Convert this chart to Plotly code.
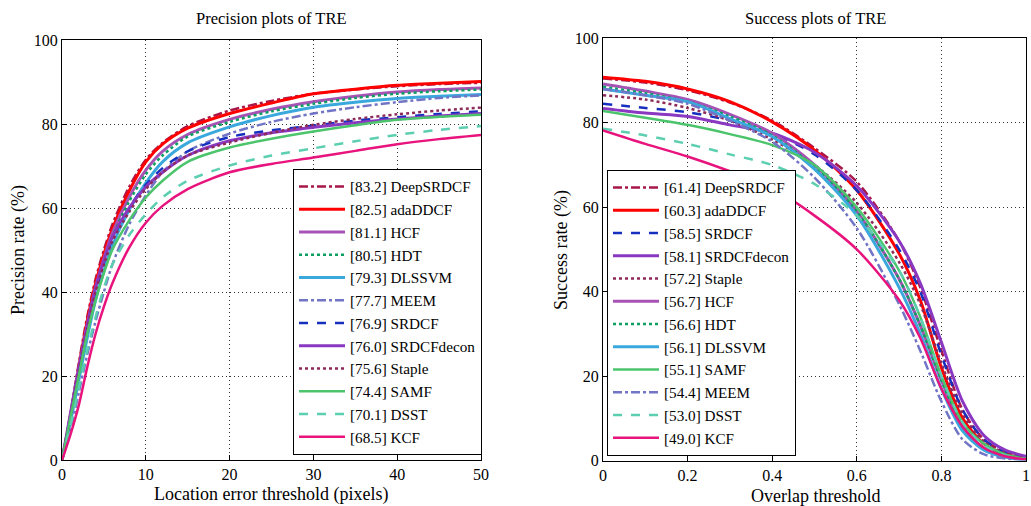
import plotly.graph_objects as go

# ---------------- data ----------------
trackers_pr = ["DeepSRDCF", "adaDDCF", "HCF", "HDT", "DLSSVM", "MEEM",
               "SRDCF", "SRDCFdecon", "Staple", "SAMF", "DSST", "KCF"]
scores_pr = [83.2, 82.5, 81.1, 80.5, 79.3, 77.7, 76.9, 76.0, 75.6, 74.4, 70.1, 68.5]

pr_x = [0, 1, 2, 3, 4, 5, 6, 8, 10, 12, 15, 20, 25, 30, 35, 40, 45, 50]
pr_y = {
    "DeepSRDCF":  [0, 11, 23, 34, 43, 50, 56, 65, 71.5, 75.5, 79.5, 83.2, 85.5, 87.2, 88.2, 89.0, 89.5, 89.8],
    "adaDDCF":    [0, 10, 22, 33, 42, 49, 55, 64, 71, 75.2, 79, 82.5, 85, 87.2, 88.3, 89.2, 89.7, 90.1],
    "HCF":        [0, 10, 21, 32, 41, 48, 54, 62.5, 69, 73.5, 77.5, 81.1, 83.5, 85.3, 86.6, 87.6, 88.2, 88.6],
    "HDT":        [0, 10, 21, 31, 40, 47, 53, 61.5, 68, 72.5, 77, 80.5, 83, 84.8, 86.2, 87.2, 87.8, 88.2],
    "DLSSVM":     [0, 9, 19, 29, 38, 45, 51, 59.5, 66, 71, 75.5, 79.3, 82, 84, 85.2, 86.1, 86.6, 87.0],
    "MEEM":       [0, 7, 16, 25, 33, 40, 46.5, 56, 63, 68.5, 73.5, 77.7, 80.5, 82.5, 84, 85.2, 86.2, 86.8],
    "SRDCF":      [0, 10, 21, 31, 40, 47, 52.5, 60, 65.5, 69.5, 73.5, 76.9, 78.5, 79.6, 80.8, 81.6, 82.4, 83.0],
    "SRDCFdecon": [0, 11, 22, 32, 41, 47.5, 53, 60, 65, 68.5, 72.5, 76.0, 77.9, 79.2, 80.3, 81.2, 81.9, 82.5],
    "Staple":     [0, 10, 21, 31, 40, 46.5, 52, 59, 64.5, 68.5, 72.5, 75.6, 77.9, 79.8, 81.2, 82.3, 83.2, 83.9],
    "SAMF":       [0, 10, 20, 30, 38, 44.5, 50, 57, 62.5, 66.5, 71, 74.4, 76.5, 78.2, 79.7, 81.0, 81.7, 82.2],
    "DSST":       [0, 8, 17, 26, 34, 41, 46.5, 53.5, 58.5, 62.5, 66.5, 70.1, 72.5, 74.2, 75.9, 77.4, 78.6, 79.5],
    "KCF":        [0, 6, 13, 22, 30, 36.5, 42, 50.5, 56.5, 60.5, 64.5, 68.5, 70.5, 72, 73.6, 75.2, 76.4, 77.4],
}

trackers_sr = ["DeepSRDCF", "adaDDCF", "SRDCF", "SRDCFdecon", "Staple", "HCF",
               "HDT", "DLSSVM", "SAMF", "MEEM", "DSST", "KCF"]
scores_sr = [61.4, 60.3, 58.5, 58.1, 57.2, 56.7, 56.6, 56.1, 55.1, 54.4, 53.0, 49.0]

sr_x = [0, 0.1, 0.2, 0.3, 0.4, 0.5, 0.6, 0.7, 0.75, 0.8, 0.85, 0.9, 0.95, 1.0]
sr_y = {
    "DeepSRDCF":  [90.5, 89.5, 87.7, 84.8, 80.5, 74, 66, 52, 41, 26, 12, 5, 2, 0.5],
    "adaDDCF":    [90.8, 89.8, 88.0, 85.0, 80.2, 73.5, 64, 49, 38, 22, 10, 4, 1.5, 0.3],
    "SRDCF":      [84.5, 83.5, 82.5, 80.5, 77.5, 72.5, 64, 50, 40, 25, 12, 5, 2, 0.5],
    "SRDCFdecon": [83.4, 82.3, 81.5, 79.5, 77.5, 73, 65, 52, 42, 28, 14, 6, 2.5, 1.0],
    "Staple":     [86.5, 85.5, 83.5, 80.5, 76, 70, 61, 47, 37, 23, 11, 4.5, 1.8, 0.5],
    "HCF":        [89.2, 87.5, 85.5, 82, 77.5, 70, 59, 43, 32, 19, 8, 3, 1, 0.3],
    "HDT":        [88.5, 87, 85, 81.5, 77, 69.5, 59, 43, 32, 19, 8, 3, 1, 0.3],
    "DLSSVM":     [88, 86.5, 85, 81, 76.7, 69, 58, 41, 30, 17, 7, 2.5, 0.8, 0.2],
    "SAMF":       [82.8, 81.2, 79.5, 77.3, 74.7, 70, 60, 45, 34, 20, 9, 4, 1.5, 0.4],
    "MEEM":       [88, 86.5, 84.5, 80.5, 75.5, 67, 55, 37, 26, 14, 5, 1.5, 0.5, 0.2],
    "DSST":       [78.6, 77, 75, 72.5, 70, 65.5, 58, 45, 34, 20, 9, 3.5, 1.2, 0.3],
    "KCF":        [78.2, 75, 72, 68.5, 64.5, 58, 50, 38, 29, 17, 8, 3, 1, 0.3],
}

# ---------------- styles ----------------
style = {
    "DeepSRDCF":  dict(color="#A8174A", dash="dashdot", width=2.5),
    "adaDDCF":    dict(color="#FF0000", dash="solid", width=3),
    "HCF":        dict(color="#A752B5", dash="solid", width=3),
    "HDT":        dict(color="#0E9E62", dash="dot", width=2.5),
    "DLSSVM":     dict(color="#3AA8DC", dash="solid", width=3),
    "MEEM":       dict(color="#7275C6", dash="dashdot", width=2.5),
    "SRDCF":      dict(color="#1530BF", dash="dash", width=2.5),
    "SRDCFdecon": dict(color="#8A38C2", dash="solid", width=3),
    "Staple":     dict(color="#8E2A5A", dash="dot", width=2.5),
    "SAMF":       dict(color="#4CC46C", dash="solid", width=2.5),
    "DSST":       dict(color="#5CCFB0", dash="dash", width=2.5),
    "KCF":        dict(color="#E8137C", dash="solid", width=2.5),
}

FONT = "Liberation Serif, Times New Roman, serif"
W, H = 1031, 506

fig = go.Figure()

for name, sc in zip(trackers_pr, scores_pr):
    fig.add_trace(go.Scatter(
        x=pr_x, y=pr_y[name], mode="lines", name=f"[{sc:.1f}] {name}",
        line=dict(shape="spline", smoothing=0.8, **style[name]),
        xaxis="x", yaxis="y", legend="legend"))

for name, sc in zip(trackers_sr, scores_sr):
    fig.add_trace(go.Scatter(
        x=sr_x, y=sr_y[name], mode="lines", name=f"[{sc:.1f}] {name}",
        line=dict(shape="spline", smoothing=0.8, **style[name]),
        xaxis="x2", yaxis="y2", legend="legend2"))

axis_common = dict(
    showline=True, mirror=True, linecolor="black", linewidth=1,
    ticks="inside", ticklen=5, tickcolor="black", automargin=False,
    showgrid=True, gridcolor="#333", griddash="1px,3px", gridwidth=1,
    zeroline=False, tickfont=dict(family=FONT, size=16, color="black"),
)

def px_x(p):
    return p / W

def px_y(p):
    return 1 - p / H

legend_common = dict(bgcolor="white", bordercolor="black", borderwidth=1,
                     itemwidth=46,
                     font=dict(family=FONT, size=15.2, color="black"), tracegroupgap=0)

fig.update_layout(
    width=W, height=H, margin=dict(l=0, r=0, t=0, b=0, autoexpand=False),
    font=dict(family=FONT, size=16, color="black"),
    paper_bgcolor="white", plot_bgcolor="white",
    xaxis=dict(domain=[px_x(62), px_x(481)], range=[0, 50], tickvals=[0, 10, 20, 30, 40, 50],
               anchor="y", **axis_common),
    yaxis=dict(domain=[px_y(460), px_y(40)], range=[0, 100], tickvals=[0, 20, 40, 60, 80, 100],
               anchor="x", **axis_common),
    xaxis2=dict(domain=[px_x(603), px_x(1026)], range=[0, 1], tickvals=[0, 0.2, 0.4, 0.6, 0.8, 1],
                ticktext=["0", "0.2", "0.4", "0.6", "0.8", "1"], anchor="y2", **axis_common),
    yaxis2=dict(domain=[px_y(460.5), px_y(38.3)], range=[0, 100], tickvals=[0, 20, 40, 60, 80, 100],
                anchor="x2", **axis_common),
    legend=dict(x=px_x(482), xanchor="right", y=px_y(455), yanchor="bottom", **legend_common),
    legend2=dict(x=px_x(607), xanchor="left", y=px_y(456), yanchor="bottom", **legend_common),
    showlegend=True,
)

def label(text, x, y, size=17, angle=0):
    fig.add_annotation(text=text, x=px_x(x), y=px_y(y), xref="paper", yref="paper",
                       xanchor="center", yanchor="middle",
                       showarrow=False, textangle=angle,
                       font=dict(family=FONT, size=size, color="black"))

label("Precision plots of TRE", 271, 18, size=16.5)
label("Success plots of TRE", 815, 18, size=16.5)
label("Location error threshold (pixels)", 271, 494, size=18)
label("Overlap threshold", 815, 496, size=18)
label("Precision rate (%)", 18, 250, size=18, angle=-90)
label("Success rate (%)", 561, 250, size=18, angle=-90)

fig.write_html("out.html")
